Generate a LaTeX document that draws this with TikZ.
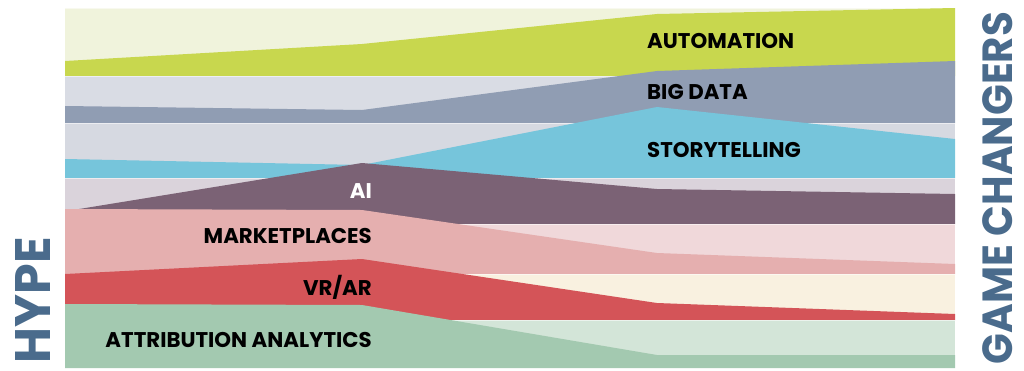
\documentclass[tikz,border=0pt]{standalone}
\usepackage{fontspec}
\usepackage{graphicx}
\newfontfamily\popfont{Poppins}
\definecolor{autoL}{HTML}{F0F3DC}\definecolor{autoD}{HTML}{C8D74E}
\definecolor{bigL}{HTML}{D9DCE4}\definecolor{bigD}{HTML}{909DB3}
\definecolor{storL}{HTML}{D6D9E1}\definecolor{storD}{HTML}{76C5DB}
\definecolor{aiL}{HTML}{DAD3DB}\definecolor{aiD}{HTML}{7B6275}
\definecolor{mpL}{HTML}{F0D8DA}\definecolor{mpD}{HTML}{E5AFAF}
\definecolor{vrL}{HTML}{F9F1E0}\definecolor{vrD}{HTML}{D45458}
\definecolor{atL}{HTML}{D3E5D8}\definecolor{atD}{HTML}{A3C9B0}
\definecolor{titleblue}{HTML}{4A6B8C}
% #1 top, #2 bottom, #3 light, #4 dark, #5..#8 value line at x=65,362,657,955
\newcommand\bandarea[8]{%
  \fill[#3] (65,#1) rectangle (955,#2);
  \draw[seam] (65,#1) -- (955,#1);
  \fill[#4] (65,#2) -- (65,#5) -- (362,#6) -- (657,#7) -- (955,#8) -- (955,#2) -- cycle;}
\tikzset{
  seam/.style={white, opacity=0.55, line width=0.7pt},
  lab/.style={font=\popfont\bfseries\fontsize{21.3}{23}\selectfont, inner sep=0pt, text=black},
  labL/.style={lab, anchor=base east},
  labR/.style={lab, anchor=base west},
  side/.style={font=\popfont\bfseries, text=titleblue, inner sep=0pt, rotate=90, anchor=base}
}
\begin{document}
\begin{tikzpicture}[x=1pt,y=-1pt]
\useasboundingbox (0,0) rectangle (1024,370);
\bandarea{8}{76}{autoL}{autoD}{61}{44}{14}{8}
\bandarea{76}{123}{bigL}{bigD}{106}{110}{71}{61}
\bandarea{123}{178}{storL}{storD}{159}{165}{107}{139}
\bandarea{178}{224}{aiL}{aiD}{211.3}{163}{189}{194}
\bandarea{224}{274}{mpL}{mpD}{209}{210}{253}{264}
\bandarea{274}{320}{vrL}{vrD}{274}{259}{303}{314}
\bandarea{320}{368}{atL}{atD}{304}{305}{355}{355}
% labels
\node[labR] (automation) at (647,48) {AUTOMATION};
\node[labR] (bigdata) at (647,99) {BIG DATA};
\node[labR] (story) at (647,157) {STORYTELLING};
\node[labL, text=white] (ai) at (372,198) {AI};
\node[labL] (market) at (372,243) {MARKETPLACES};
\node[labL] (vrar) at (372,295) {VR/AR};
\node[labL] (attr) at (372,347) {ATTRIBUTION ANALYTICS};
% side titles
\node[side] (hype) at (50,300) {\resizebox{126pt}{35pt}{HYPE}};
\node[side] (game) at (1012,188) {\resizebox{352pt}{30pt}{GAME CHANGERS}};
\end{tikzpicture}
\end{document}
